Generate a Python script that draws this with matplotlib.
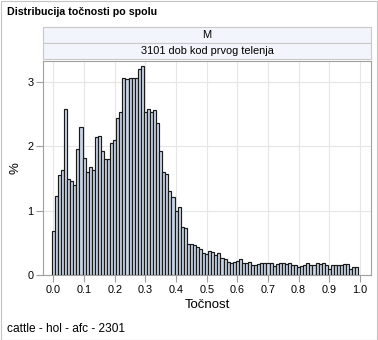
import numpy as np
import matplotlib
matplotlib.use('Agg')
import matplotlib.pyplot as plt
from matplotlib.patches import Rectangle

plt.rcParams['font.family'] = ['Liberation Sans', 'DejaVu Sans']

# podaci: postotak po razredu tocnosti (sirina razreda 0.01)
bin_width = 0.01
pct = [0.69, 1.23, 1.56, 1.64, 2.58, 1.50, 1.47, 1.40, 1.96, 2.31,
       1.82, 1.61, 1.68, 1.64, 2.14, 2.16, 1.93, 1.81, 1.81, 2.06,
       2.10, 2.44, 2.53, 3.06, 3.05, 3.07, 3.06, 3.06, 3.20, 3.25,
       2.53, 2.59, 2.53, 2.57, 2.36, 1.93, 1.61, 1.57, 1.30, 1.21,
       1.00, 1.06, 0.75, 0.73, 0.49, 0.49, 0.47, 0.44, 0.40, 0.34,
       0.32, 0.37, 0.36, 0.31, 0.35, 0.26, 0.255, 0.21, 0.19, 0.20,
       0.22, 0.245, 0.18, 0.19, 0.20, 0.16, 0.16, 0.17, 0.18, 0.18,
       0.18, 0.18, 0.135, 0.17, 0.18, 0.19, 0.17, 0.19, 0.16, 0.16,
       0.12, 0.135, 0.15, 0.18, 0.16, 0.16, 0.18, 0.17, 0.18, 0.16,
       0.10, 0.15, 0.16, 0.15, 0.16, 0.17, 0.17, 0.10, 0.125, 0.13]
x_ticks = [0.0, 0.1, 0.2, 0.3, 0.4, 0.5, 0.6, 0.7, 0.8, 0.9, 1.0]
y_ticks = [0, 1, 2, 3]

title = 'Distribucija točnosti po spolu'
strip1 = 'M'
strip2 = '3101 dob kod prvog telenja'
x_label = 'Točnost'
y_label = '%'
footnote = 'cattle - hol - afc - 2301'

W, H = 378, 340
fig = plt.figure(figsize=(W / 100, H / 100), dpi=100)

def fx(px):
    return px / W

def fy(py):
    return 1 - py / H

# okvir slike
fig.patches.append(Rectangle((0.5 / W, 0.5 / H), 1 - 1.5 / W, 1 - 1.5 / H,
                             transform=fig.transFigure, fill=False,
                             edgecolor='#c4c4c4', lw=0.8))

# naslov
fig.text(fx(7), fy(12), title, fontsize=7.7, fontweight='bold',
         ha='left', va='center')

# trake iznad grafa
left, right = 43, 371
for (top, bot), txt in [((27, 43), strip1), ((43, 59), strip2)]:
    fig.patches.append(Rectangle((fx(left), fy(bot)), fx(right - left), (bot - top) / H,
                                 transform=fig.transFigure, facecolor='#f2f5fb',
                                 edgecolor='#c8c8c8', lw=0.8))
    fig.text(fx((left + right) / 2), fy((top + bot) / 2), txt, fontsize=7.9,
             ha='center', va='center')

ax = fig.add_axes([fx(left), fy(275), fx(right - left), (275 - 61) / H])
centers = np.arange(len(pct)) * bin_width
ax.bar(centers, pct, width=bin_width, color='#cad5e5', edgecolor='#1a1a1a',
       linewidth=0.85, zorder=3)

ax.set_xlim(-0.034, 1.036)
ax.set_ylim(0, 3.33)
ax.set_xticks(x_ticks)
ax.set_xticklabels(['%.1f' % t for t in x_ticks])
ax.set_yticks(y_ticks)
ax.grid(True, color='#e6e6e6', lw=0.8, zorder=0)
ax.set_axisbelow(True)
for s in ax.spines.values():
    s.set_color('#a0a0a0')
    s.set_linewidth(0.8)
ax.tick_params(axis='both', colors='#a0a0a0', labelcolor='black',
               length=5, width=0.8, labelsize=7.8, pad=2)

ax.set_xlabel(x_label, fontsize=9.5, labelpad=3)
ax.set_ylabel(y_label, fontsize=9.5, labelpad=4)

fig.text(fx(7), fy(328.5), footnote, fontsize=8.6, ha='left', va='center')

fig.savefig('out.png', dpi=100)
